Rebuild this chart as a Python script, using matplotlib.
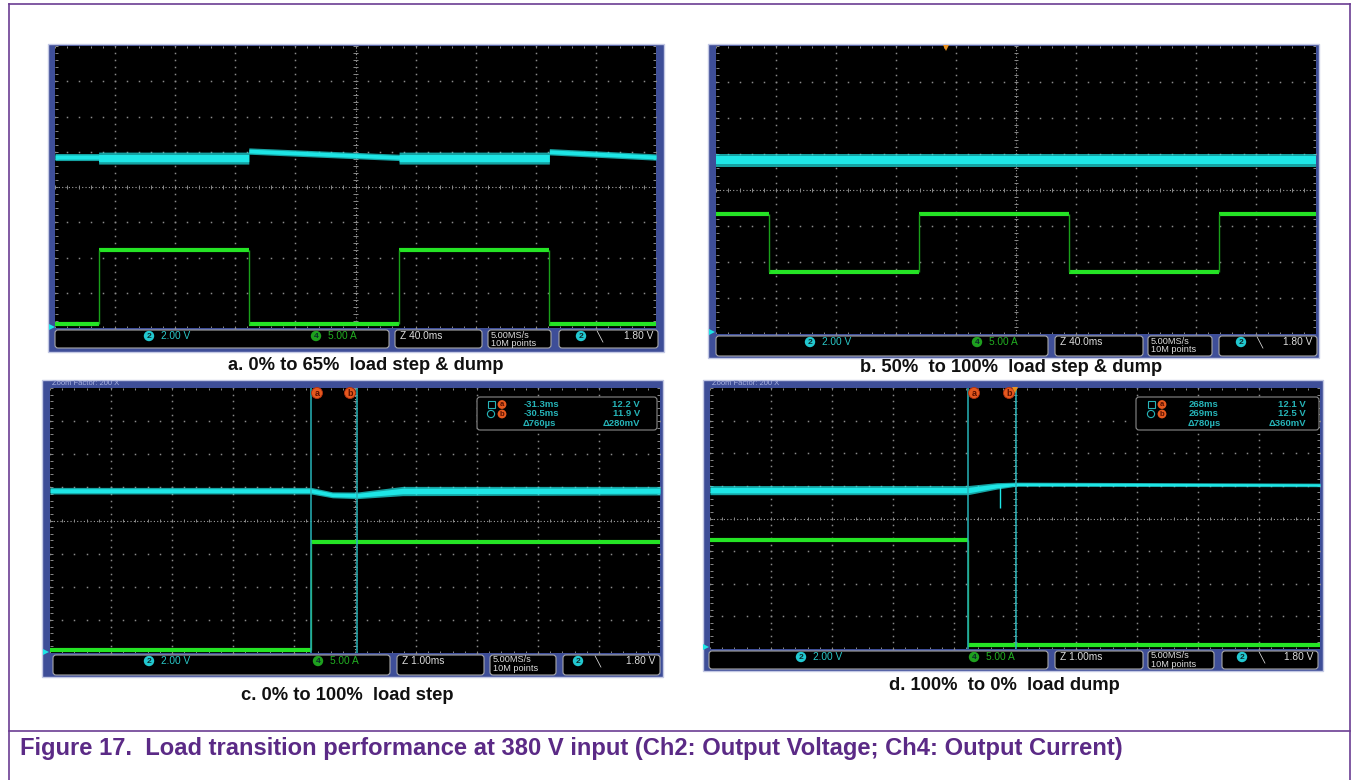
import numpy as np
import matplotlib
matplotlib.use("Agg")
import matplotlib.pyplot as plt
from matplotlib.patches import Rectangle, FancyBboxPatch, Circle

plt.rcParams['font.family'] = ['Liberation Sans', 'DejaVu Sans']

W, H = 1354, 780

# Channel scaling and on-screen reference positions
CH2_V_PER_DIV = 2.0      # Ch2: output voltage
CH2_CENTER_V = 10.4      # voltage on the centre graticule line
CH4_A_PER_DIV = 5.0      # Ch4: output current
CH4_GND_DIV = -3.9       # Ch4 ground, divisions from centre

# a. 0% to 65% load step & dump (40 ms/div)
a_window_ms = [0.0, 400.0]
a_edges_ms = [29, 129, 229, 329]
a_current_A = [0.0, 10.5, 0.0, 10.5, 0.0]
a_volt_t_ms = [0, 29, 29, 129, 129, 229, 229, 329, 329, 400]
a_volt_V = [12.10, 12.10, 12.04, 12.04, 12.44, 12.08, 12.04, 12.04, 12.40, 12.10]
a_ripple_V = [0.20, 0.20, 0.34, 0.34, 0.18, 0.18, 0.34, 0.34, 0.18, 0.18]

# b. 50% to 100% load step & dump (40 ms/div)
b_window_ms = [0.0, 400.0]
b_edges_ms = [35, 135, 235, 335]
b_current_A = [16.2, 8.1, 16.2, 8.1, 16.2]
b_volt_t_ms = [0, 400]
b_volt_V = [12.06, 12.06]
b_ripple_V = [0.36, 0.36]

# c. 0% to 100% load step (1 ms/div)
c_window_ms = [-35.58, -25.58]
c_edges_ms = [-31.30]
c_current_A = [0.0, 16.2]
c_volt_t_ms = [-35.58, -31.30, -30.95, -30.54, -29.80, -25.58]
c_volt_V = [12.20, 12.20, 11.95, 11.92, 12.18, 12.20]
c_ripple_V = [0.20, 0.20, 0.18, 0.20, 0.28, 0.26]
c_cursor_ms = [-31.30, -30.54]
c_cursor_V = [12.20, 11.92]

# d. 100% to 0% load dump (1 ms/div)
d_window_ms = [264.0, 274.0]
d_edges_ms = [268.23]
d_current_A = [16.2, 0.1]
d_volt_t_ms = [264.0, 268.23, 268.70, 269.01, 274.0]
d_volt_V = [12.14, 12.14, 12.40, 12.50, 12.46]
d_ripple_V = [0.28, 0.28, 0.20, 0.13, 0.11]
d_spike_ms = [268.76]
d_spike_V = [11.05]
d_cursor_ms = [268.23, 269.01]
d_cursor_V = [12.14, 12.50]

CYAN = '#1ee6e6'
GREEN = '#25e425'
GREEN_EDGE = '#1aa01a'
TEAL = '#26b4b8'
ORANGE = '#e5581e'
FRAME = '#3e4e98'
PURPLE = '#5b2a86'

fig = plt.figure(figsize=(W / 100, H / 100), dpi=100)


def pixel_axes(z):
    a = fig.add_axes([0, 0, 1, 1], zorder=z)
    a.set_xlim(0, W)
    a.set_ylim(H, 0)
    a.axis('off')
    a.patch.set_alpha(0)
    return a


bg = pixel_axes(0)
ov = pixel_axes(5)


def frac(x0, y0, x1, y1):
    return [x0 / W, 1 - y1 / H, (x1 - x0) / W, (y1 - y0) / H]


def graticule(ax):
    tr = ax.transAxes
    dot = dict(ls='none', marker='s', ms=1.1, mew=0, color='#8a8a8a', transform=tr, zorder=1)
    ys = np.arange(0, 1.0001, 1 / 40)
    xs = np.arange(0, 1.0001, 1 / 50)
    for k in range(1, 10):
        if k != 5:
            ax.plot(np.full_like(ys, k / 10), ys, **dot)
    for k in range(1, 8):
        if k != 4:
            ax.plot(xs, np.full_like(xs, k / 8), **dot)
    cl = dict(colors='#8a8a8a', lw=0.7, transform=tr, zorder=1)
    ax.plot([0, 1], [0.5, 0.5], color='#a0a0a0', lw=0.8, ls=(0, (1, 2)), transform=tr, zorder=1)
    ax.plot([0.5, 0.5], [0, 1], color='#a0a0a0', lw=0.8, ls=(0, (1, 2)), transform=tr, zorder=1)
    tx = np.arange(0, 1.0001, 0.02)
    ty = np.arange(0, 1.0001, 1 / 40)
    ax.vlines(tx, 0.5 - 0.007, 0.5 + 0.007, **cl)
    ax.hlines(ty, 0.5 - 0.004, 0.5 + 0.004, **cl)
    ax.vlines(tx, 0, 0.008, **cl)
    ax.vlines(tx, 0.992, 1, **cl)
    ax.hlines(ty, 0, 0.005, **cl)
    ax.hlines(ty, 0.995, 1, **cl)


def screen(rect, window):
    ax = fig.add_axes(frac(*rect), zorder=1)
    ax.set_facecolor('black')
    ax.set_xlim(window)
    ax.set_ylim((-4 - CH4_GND_DIV) * CH4_A_PER_DIV, (4 - CH4_GND_DIV) * CH4_A_PER_DIV)
    axv = ax.twinx()
    axv.set_zorder(2)
    axv.patch.set_visible(False)
    axv.set_ylim(CH2_CENTER_V - 4 * CH2_V_PER_DIV, CH2_CENTER_V + 4 * CH2_V_PER_DIV)
    for a in (ax, axv):
        a.set_xticks([])
        a.set_yticks([])
        for s in a.spines.values():
            s.set_visible(False)
    graticule(ax)
    return ax, axv


def draw_ch4(ax, window, edges, levels):
    bounds = [window[0]] + list(edges) + [window[1]]
    for i, lvl in enumerate(levels):
        ax.hlines(lvl, bounds[i], bounds[i + 1], colors=GREEN, lw=3.0, zorder=4)
    for i, e in enumerate(edges):
        ax.vlines(e, min(levels[i], levels[i + 1]), max(levels[i], levels[i + 1]),
                  colors=GREEN_EDGE, lw=1.0, zorder=4)


def draw_ch2(axv, t, v, r):
    t, v, r = np.asarray(t, float), np.asarray(v, float), np.asarray(r, float)
    axv.fill_between(t, v - r, v + r, color=CYAN, alpha=0.7, lw=0, zorder=5)
    axv.fill_between(t, v - 0.6 * r, v + 0.6 * r, color=CYAN, lw=0, zorder=5)


def frame(x0, y0, x1, y1):
    bg.add_patch(Rectangle((x0, y0), x1 - x0, y1 - y0, fc=FRAME, ec='#c3c8e4', lw=1.0))


def badge(x, y, label, fc):
    bg.add_patch(Circle((x, y), 5.2, fc=fc, ec='none', zorder=3))
    bg.text(x, y + 0.3, label, fontsize=6, color='#0a2a2a', ha='center', va='center',
            fontweight='bold', zorder=4)


def status_bar(y0, y1, boxes, ch2_x, ch4_x, trig_x, zoom_txt):
    for x0, x1 in boxes:
        bg.add_patch(FancyBboxPatch((x0, y0), x1 - x0, y1 - y0,
                                    boxstyle='round,pad=0,rounding_size=3',
                                    fc='black', ec='#a9a9a9', lw=0.8, zorder=2))
    r1 = y0 + 6.0
    fs = 7.3
    badge(ch2_x, r1, '2', '#22c8d0')
    bg.text(ch2_x + 12, r1, '2.00 V', fontsize=fs, color='#2ac8c8', va='center', zorder=4)
    badge(ch4_x, r1, '4', '#1ea01e')
    bg.text(ch4_x + 12, r1, '5.00 A', fontsize=fs, color='#22b022', va='center', zorder=4)
    bg.text(boxes[1][0] + 5, r1, zoom_txt, fontsize=fs, color='#dddddd', va='center', zorder=4)
    bg.text(boxes[2][0] + 3, y0 + 5.0, '5.00MS/s', fontsize=6.6, color='#dddddd', va='center',
            zorder=4)
    bg.text(boxes[2][0] + 3, y0 + 13.5, '10M points', fontsize=6.6, color='#dddddd',
            va='center', zorder=4)
    badge(trig_x, r1, '2', '#22c8d0')
    bg.text(trig_x + 19, r1, '\u2572', fontsize=fs, color='#dddddd', va='center', ha='center',
            family='DejaVu Sans', zorder=4)
    bg.text(boxes[3][1] - 5, r1, '1.80 V', fontsize=fs, color='#dddddd', va='center', ha='right',
            zorder=4)


def cursors(axv, times, label_xs, top_y):
    for t in times:
        axv.axvline(t, color=TEAL, lw=1.1, zorder=6)
    for x, lab in zip(label_xs, 'ab'):
        ov.add_patch(Circle((x, top_y), 5.5, fc=ORANGE, ec='#b03010', lw=0.6))
        ov.text(x, top_y + 0.3, lab, fontsize=6.5, color='#5a1000', ha='center', va='center',
                fontweight='bold')


def readout(box, icon_x, time_x, volt_x, times, volts):
    x0, y0, x1, y1 = box
    ov.add_patch(FancyBboxPatch((x0, y0), x1 - x0, y1 - y0,
                                boxstyle='round,pad=0,rounding_size=3',
                                fc='black', ec='#8a8a8a', lw=0.8))
    rows = [y0 + 7.5, y0 + 17, y0 + 26.5]
    fs = 6.8
    ov.add_patch(Rectangle((icon_x - 3.5, rows[0] - 3.5), 7, 7, fc='none', ec=TEAL, lw=0.8))
    ov.add_patch(Circle((icon_x, rows[1]), 3.6, fc='none', ec=TEAL, lw=0.8))
    for r, lab in zip(rows[:2], 'ab'):
        ov.add_patch(Circle((icon_x + 11, r), 4.4, fc=ORANGE, ec='none'))
        ov.text(icon_x + 11, r + 0.3, lab, fontsize=5.5, color='#5a1000', ha='center',
                va='center', fontweight='bold')
    for r, t, v in zip(rows[:2], times, volts):
        ov.text(time_x, r, f'{t:.3g}ms', fontsize=fs, color=TEAL, va='center', fontweight='bold')
        ov.text(volt_x, r, f'{v:.3g} V', fontsize=fs, color=TEAL, va='center', ha='right',
                fontweight='bold')
    dt_us = abs(times[1] - times[0]) * 1000
    dv_mv = abs(volts[1] - volts[0]) * 1000
    ov.text(time_x - 1, rows[2], f'\u0394{dt_us:.0f}\u00b5s', fontsize=fs, color=TEAL,
            va='center', fontweight='bold')
    ov.text(volt_x, rows[2], f'\u0394{dv_mv:.0f}mV', fontsize=fs, color=TEAL, va='center',
            ha='right', fontweight='bold')


def ground_marker(x, y):
    ov.plot([x], [y], marker='>', ms=4, color=CYAN, mew=0)


# ---------------- panel a ----------------
frame(48, 44, 664, 352)
ax, axv = screen((55, 46, 656, 328), a_window_ms)
draw_ch4(ax, a_window_ms, a_edges_ms, a_current_A)
draw_ch2(axv, a_volt_t_ms, a_volt_V, a_ripple_V)
status_bar(330, 348, [(55, 389), (395, 482), (488, 551), (559, 658)], 149, 316, 581, 'Z 40.0ms')
ground_marker(52, 327)

# ---------------- panel b ----------------
frame(708, 44, 1319, 358)
ax, axv = screen((716, 46, 1316, 334), b_window_ms)
draw_ch4(ax, b_window_ms, b_edges_ms, b_current_A)
draw_ch2(axv, b_volt_t_ms, b_volt_V, b_ripple_V)
status_bar(336, 356, [(716, 1048), (1055, 1143), (1148, 1212), (1219, 1317)], 810, 977, 1241,
           'Z 40.0ms')
ground_marker(712, 332)
ov.plot([946], [48], marker='v', ms=4, color='#e89020', mew=0)

# ---------------- panel c ----------------
frame(42, 380, 663, 677)
bg.text(52, 383.5, 'Zoom Factor: 200 X', fontsize=5.5, color='#aab3e0', va='center')
ax, axv = screen((50, 388, 660, 653), c_window_ms)
draw_ch4(ax, c_window_ms, c_edges_ms, c_current_A)
draw_ch2(axv, c_volt_t_ms, c_volt_V, c_ripple_V)
cursors(axv, c_cursor_ms, [317, 350], 393)
readout((477, 397, 657, 430), 491, 524, 640, c_cursor_ms, c_cursor_V)
status_bar(655, 675, [(53, 390), (397, 484), (490, 556), (563, 660)], 149, 318, 578, 'Z 1.00ms')
ground_marker(46, 652)

# ---------------- panel d ----------------
frame(703, 380, 1323, 671)
bg.text(712, 383.5, 'Zoom Factor: 200 X', fontsize=5.5, color='#aab3e0', va='center')
ax, axv = screen((710, 388, 1320, 649), d_window_ms)
draw_ch4(ax, d_window_ms, d_edges_ms, d_current_A)
draw_ch2(axv, d_volt_t_ms, d_volt_V, d_ripple_V)
for t, v in zip(d_spike_ms, d_spike_V):
    axv.vlines(t, v, np.interp(t, d_volt_t_ms, d_volt_V), colors=CYAN, lw=1.0, zorder=5)
cursors(axv, d_cursor_ms, [974, 1009], 393)
readout((1136, 397, 1319, 430), 1151, 1189, 1306, d_cursor_ms, d_cursor_V)
status_bar(651, 669, [(709, 1048), (1055, 1143), (1148, 1214), (1222, 1318)], 801, 974, 1242,
           'Z 1.00ms')
ground_marker(706, 647)
ov.plot([1015], [390], marker='v', ms=4, color='#e89020', mew=0)

# ---------------- captions ----------------
cap = dict(fontsize=13.2, fontweight='bold', color='#111111', ha='center', va='center')
bg.text(366, 366, 'a. 0% to 65%  load step & dump', **cap)
bg.text(1011, 367, 'b. 50%  to 100%  load step & dump', **cap)
bg.text(347, 695, 'c. 0% to 100%  load step', **cap)
bg.text(1004, 686, 'd. 100%  to 0%  load dump', **cap)

# ---------------- figure box and title ----------------
bc = '#6b3d92'
bg.plot([8.5, 8.5], [3.5, H], color=bc, lw=1.2)
bg.plot([1350, 1350], [3.5, H], color=bc, lw=1.2)
bg.plot([8.5, 1350], [3.5, 3.5], color=bc, lw=1.2)
bg.plot([8.5, 1350], [731, 731], color=bc, lw=1.2)
bg.text(20, 749, 'Figure 17.  Load transition performance at 380 V input '
        '(Ch2: Output Voltage; Ch4: Output Current)',
        fontsize=17.1, fontweight='bold', color=PURPLE, ha='left', va='center')

fig.savefig('out.png', dpi=100, facecolor='white')
